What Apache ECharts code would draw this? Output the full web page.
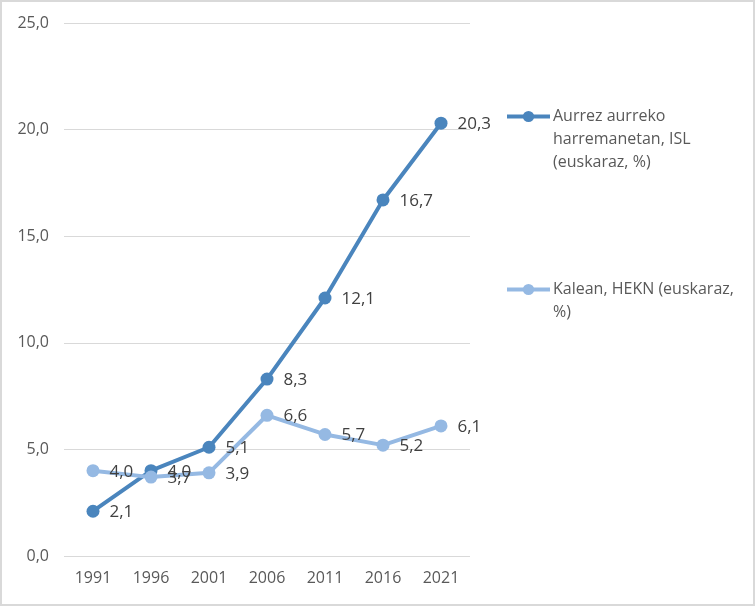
<!DOCTYPE html>
<html><head><meta charset="utf-8">
<script src="https://cdn.jsdelivr.net/npm/echarts@6/dist/echarts.min.js"></script>
<style>html,body{margin:0;padding:0;background:#fff}#c{width:751px;height:602px;border:2px solid #d9d9d9}</style>
</head><body><div id="c"></div>
<script>
var years = ['1991','1996','2001','2006','2011','2016','2021'];
var islValues = [2.1, 4.0, 5.1, 8.3, 12.1, 16.7, 20.3];
var heknValues = [4.0, 3.7, 3.9, 6.6, 5.7, 5.2, 6.1];
var seriesNames = ['Aurrez aurreko harremanetan, ISL (euskaraz, %)', 'Kalean, HEKN (euskaraz, %)'];
var legendLabels = ['\n\nAurrez aurreko\nharremanetan, ISL\n(euskaraz, %)', '\nKalean, HEKN (euskaraz,\n%)'];
var fmt = function(v){ return Number(v).toFixed(1).replace('.', ','); };
var chart = echarts.init(document.getElementById('c'));
var txt = '#595959';
var font = '"Open Sans", "Noto Sans", sans-serif';
function legend(i, top) {
  return {
    data: [seriesNames[i]], left: 503, top: top, orient: 'vertical',
    itemWidth: 43, itemHeight: 14, itemGap: 0, padding: 0,
    lineStyle: { width: 4 },
    formatter: function(){ return legendLabels[i]; },
    textStyle: { color: txt, fontSize: 16, lineHeight: 23, fontFamily: font, padding: [0, 0, 0, -2] }
  };
}
chart.setOption({
  animation: false,
  grid: { left: 62, right: 283, top: 21, bottom: 48 },
  legend: [legend(0, 57), legend(1, 253)],
  xAxis: {
    type: 'category', data: years, boundaryGap: true,
    axisLine: { show: false }, axisTick: { show: false },
    axisLabel: { color: txt, fontSize: 16, fontFamily: font, margin: 14 }
  },
  yAxis: {
    type: 'value', min: 0, max: 25, interval: 5,
    axisLabel: { color: txt, fontSize: 16, fontFamily: font, margin: 15, formatter: fmt },
    splitLine: { lineStyle: { color: '#d9d9d9', width: 1 } },
    axisLine: { show: false }, axisTick: { show: false }
  },
  series: [
    { name: seriesNames[0], type: 'line', data: islValues, symbol: 'circle', symbolSize: 13,
      lineStyle: { width: 4, color: '#4a85bd' }, itemStyle: { color: '#4a85bd' },
      label: { show: true, position: 'right', distance: 10, offset: [0, 1], color: '#404040', fontSize: 17, fontFamily: font, formatter: function(p){ return fmt(p.value); } } },
    { name: seriesNames[1], type: 'line', data: heknValues, symbol: 'circle', symbolSize: 13,
      lineStyle: { width: 4, color: '#95b9e3' }, itemStyle: { color: '#95b9e3' },
      label: { show: true, position: 'right', distance: 10, offset: [0, 1], color: '#404040', fontSize: 17, fontFamily: font, formatter: function(p){ return fmt(p.value); } } }
  ]
});
</script></body></html>
